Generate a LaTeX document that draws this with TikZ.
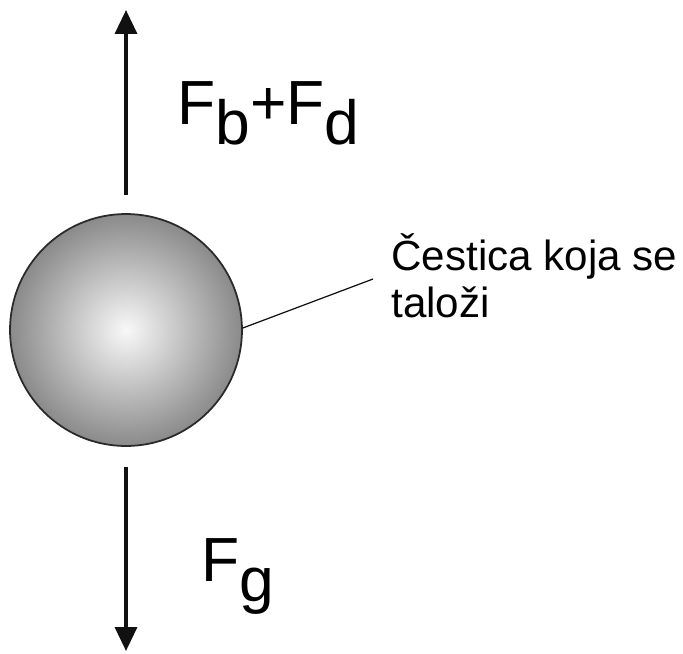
\documentclass[tikz,border=0pt]{standalone}
\usepackage{fontspec}
\setmainfont{Liberation Sans}
\usepackage{xcolor}
\usetikzlibrary{arrows.meta,positioning}
\definecolor{ink}{HTML}{111111}
\definecolor{rim}{HTML}{2A2A2A}
\definecolor{ballhi}{HTML}{F8F8F8}
\definecolor{balllo}{HTML}{8A8A8A}
\tikzset{
  particle/.style={circle,draw=rim,line width=1pt,inner sep=0pt,
                   minimum size=4.64cm,
                   inner color=ballhi,outer color=balllo},
  forcearr/.style={-{Triangle[length=4.8mm,width=4.4mm]},line width=2pt,color=ink},
  forcelbl/.style={inner sep=0pt,anchor=base west,font=\fontsize{35.5}{40}\selectfont},
  leader/.style={line width=0.7pt,color=ink},
  notelbl/.style={inner sep=0pt,anchor=base west,align=left,
                  font=\fontsize{24}{26.7}\selectfont}
}
\newcommand{\lowsub}[1]{\raisebox{-0.33em}{#1}}

\begin{document}
\begin{tikzpicture}[x=0.02cm,y=-0.02cm]
  \useasboundingbox[fill=white] (0,0) rectangle (683,653);
  \node[particle] (ball) at (126,330) {};
  % forces
  \coordinate (upfoot) at (126,195);
  \coordinate (uptip) at (126,10);
  \coordinate (downfoot) at (126,467);
  \coordinate (downtip) at (126,651);
  \draw[forcearr] (upfoot) -- (uptip);
  \draw[forcearr] (downfoot) -- (downtip);
  \node[forcelbl] (lift) at (177,124) {F\lowsub{b}+F\lowsub{d}};
  \node[forcelbl] (weight) at (201,581) {F\lowsub{g}};
  % note (base anchor sits on the last line)
  \node[notelbl] (note) at (391,317) {Čestica koja se\\taloži};
  \coordinate (notefoot) at (373,279);
  \draw[leader] (ball.east) ++(0,-2) -- (notefoot);
\end{tikzpicture}
\end{document}
